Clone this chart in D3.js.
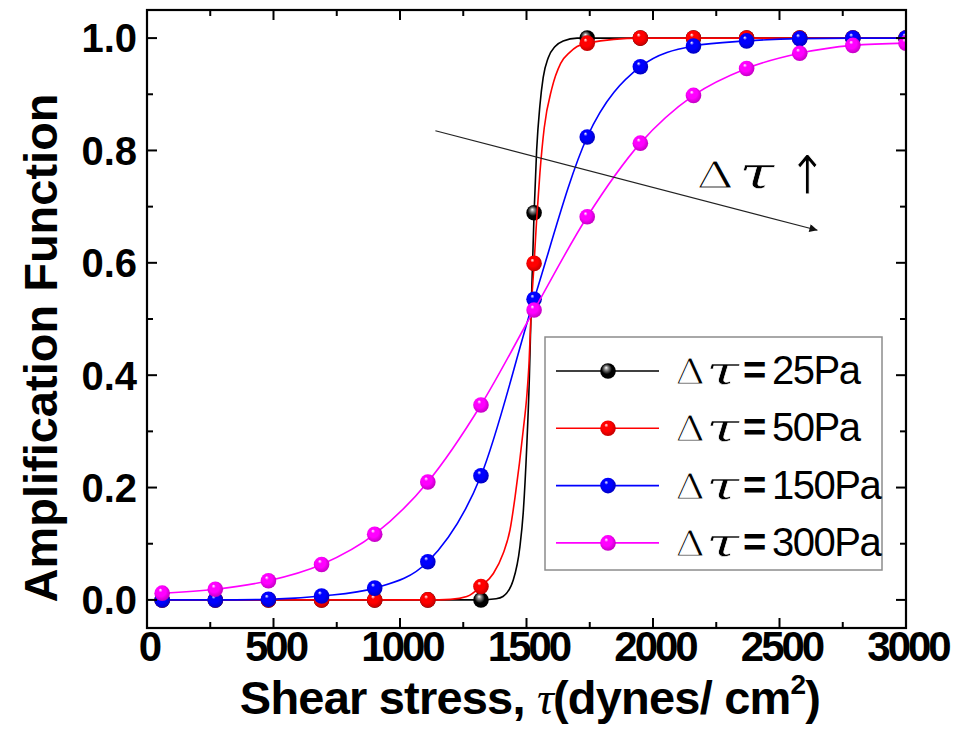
<!DOCTYPE html>
<html>
<head>
<meta charset="utf-8">
<script src="https://cdn.jsdelivr.net/npm/d3@7"></script>
<style>
  body { margin: 0; background: #fff; }
  svg { display: block; }
</style>
</head>
<body>
<svg id="chart" width="958" height="737"></svg>
<script>
// axis ticks
const xTicks = [0, 500, 1000, 1500, 2000, 2500, 3000];
const xMinor = [250, 750, 1250, 1750, 2250, 2750];
const yTicks = [0.0, 0.2, 0.4, 0.6, 0.8, 1.0];
const yMinor = [0.1, 0.3, 0.5, 0.7, 0.9];

// marker positions (shear stress, dynes/cm2)
const tauX = [60, 270, 480, 690, 900, 1110, 1320, 1530, 1740, 1950, 2160, 2370, 2580, 2790, 3000];
const amp25 = [0, 0, 0, 0, 0, 0, 0, 0.689, 1, 1, 1, 1, 1, 1, 1];
const amp50 = [0, 0, 0, 0, 0, 0, 0.024, 0.599, 0.991, 1, 1, 1, 1, 1, 1];
const amp150 = [0, 0, 0.001, 0.007, 0.021, 0.068, 0.221, 0.535, 0.824, 0.949, 0.986, 0.995, 0.999, 1, 1];
const amp300 = [0.012, 0.019, 0.034, 0.063, 0.117, 0.210, 0.347, 0.516, 0.682, 0.813, 0.898, 0.946, 0.973, 0.987, 0.991];

// the two steep curves
const trace25 = [[60, 0], [1320, 0], [1380, 0.002], [1407, 0.006], [1448, 0.036], [1474, 0.095],
  [1487, 0.155], [1501, 0.273], [1511, 0.391], [1518, 0.511], [1530, 0.689], [1540, 0.80],
  [1553, 0.88], [1566, 0.93], [1586, 0.965], [1613, 0.985], [1645, 0.995], [1700, 1], [3000, 1]];
const trace50 = [[60, 0], [1110, 0], [1200, 0.001], [1264, 0.006], [1320, 0.024], [1369, 0.047],
  [1408, 0.083], [1435, 0.125], [1455, 0.184], [1472, 0.243], [1487, 0.302], [1501, 0.362],
  [1510, 0.421], [1518, 0.51], [1530, 0.599], [1540, 0.676], [1553, 0.76], [1570, 0.84],
  [1600, 0.91], [1635, 0.955], [1672, 0.975], [1700, 0.985], [1740, 0.991], [1950, 1], [3000, 1]];

const seriesNames = ['25Pa', '50Pa', '150Pa', '300Pa'];
const seriesColors = ['#000000', '#ff0000', '#0000ff', '#ff00ff'];

const svg = d3.select('#chart');
const x = d3.scaleLinear().domain([0, 3000]).range([147, 906]);
const y = d3.scaleLinear().domain([-0.05, 1.05]).range([628, 10]);

const sans = '"Liberation Sans", Arial, sans-serif';
const serif = '"Liberation Serif", "DejaVu Serif", serif';
const mathFont = '"DejaVu Serif", serif';

// sphere gradients
const defs = svg.append('defs');
seriesColors.forEach((c, i) => {
  const g = defs.append('radialGradient')
    .attr('id', 'ball' + i)
    .attr('cx', 0.45).attr('cy', 0.45).attr('r', 0.6)
    .attr('fx', 0.38).attr('fy', 0.28);
  const base = d3.color(c);
  g.append('stop').attr('offset', '0%').attr('stop-color', '#ffffff');
  g.append('stop').attr('offset', '22%').attr('stop-color', i === 0 ? '#888888' : base.brighter(0.8));
  g.append('stop').attr('offset', '55%').attr('stop-color', c);
  g.append('stop').attr('offset', '100%').attr('stop-color', base.darker(0.9));
});

const line = d3.line()
  .x(d => x(d[0]))
  .y(d => y(d[1]))
  .curve(d3.curveMonotoneX);

const clip = defs.append('clipPath').attr('id', 'plotclip');
clip.append('rect').attr('x', 147).attr('y', 10).attr('width', 759).attr('height', 618);

const plot = svg.append('g').attr('clip-path', 'url(#plotclip)');

const seriesAmp = [amp25, amp50, amp150, amp300];
const seriesLine = [
  trace25,
  trace50,
  tauX.map((t, i) => [t, amp150[i]]),
  tauX.map((t, i) => [t, amp300[i]])
];

seriesAmp.forEach((amp, s) => {
  const g = plot.append('g');
  g.append('path')
    .attr('d', line(seriesLine[s]))
    .attr('fill', 'none')
    .attr('stroke', seriesColors[s])
    .attr('stroke-width', 1.6);
  g.selectAll('circle')
    .data(tauX.map((t, i) => [t, amp[i]]))
    .enter()
    .append('circle')
    .attr('cx', d => x(d[0]))
    .attr('cy', d => y(d[1]))
    .attr('r', 7.8)
    .attr('fill', `url(#ball${s})`);
});

// frame and inward ticks on all four sides
svg.append('rect')
  .attr('x', 147).attr('y', 10).attr('width', 759).attr('height', 618)
  .attr('fill', 'none').attr('stroke', '#000').attr('stroke-width', 2.2);

const tickG = svg.append('g').attr('stroke', '#000').attr('stroke-width', 2);
[[xTicks, 10], [xMinor, 6]].forEach(([ticks, len]) => {
  ticks.forEach(t => {
    tickG.append('line').attr('x1', x(t)).attr('x2', x(t)).attr('y1', 628).attr('y2', 628 - len);
    tickG.append('line').attr('x1', x(t)).attr('x2', x(t)).attr('y1', 10).attr('y2', 10 + len);
  });
});
[[yTicks, 10], [yMinor, 6]].forEach(([ticks, len]) => {
  ticks.forEach(t => {
    tickG.append('line').attr('y1', y(t)).attr('y2', y(t)).attr('x1', 147).attr('x2', 147 + len);
    tickG.append('line').attr('y1', y(t)).attr('y2', y(t)).attr('x1', 906).attr('x2', 906 - len);
  });
});

// tick labels
svg.append('g').selectAll('text')
  .data(xTicks).enter().append('text')
  .attr('x', d => x(d) + 2)
  .attr('y', 661)
  .attr('text-anchor', 'middle')
  .attr('font-family', sans).attr('font-weight', 'bold').attr('font-size', 42)
  .attr('letter-spacing', -3)
  .text(d => d);

svg.append('g').selectAll('text')
  .data(yTicks).enter().append('text')
  .attr('x', 137)
  .attr('y', d => y(d))
  .attr('dy', '0.36em')
  .attr('text-anchor', 'end')
  .attr('font-family', sans).attr('font-weight', 'bold').attr('font-size', 40)
  .text(d => d.toFixed(1));

// axis titles
svg.append('text')
  .attr('transform', 'translate(57,348) rotate(-90)')
  .attr('text-anchor', 'middle')
  .attr('font-family', sans).attr('font-weight', 'bold').attr('font-size', 47)
  .text('Amplification Function');

const xt = svg.append('text')
  .attr('x', 530).attr('y', 714)
  .attr('text-anchor', 'middle')
  .attr('font-family', sans).attr('font-weight', 'bold').attr('font-size', 47)
  .attr('letter-spacing', -0.8);
xt.append('tspan').text('Shear stress, ');
xt.append('tspan').attr('font-family', serif).attr('font-style', 'italic').attr('font-weight', 'normal').text('τ');
xt.append('tspan').text('(dynes/ cm');
xt.append('tspan').attr('font-size', 28).attr('dy', -20).text('2');
xt.append('tspan').attr('dy', 20).text(')');

// wide, thin greek letters as in the original figure
function greek(parent, ch, gx, gy, size, sx, italic, thin) {
  parent.append('text')
    .attr('transform', `translate(${gx},${gy}) scale(${sx},1)`)
    .attr('font-family', mathFont).attr('font-size', size)
    .attr('font-style', italic ? 'italic' : 'normal')
    .attr('fill', '#000')
    .attr('stroke', '#fff').attr('stroke-width', thin)
    .text(ch);
}

// arrow annotation
defs.append('marker')
  .attr('id', 'arrowhead')
  .attr('viewBox', '0 0 10 10')
  .attr('refX', 10).attr('refY', 5)
  .attr('markerWidth', 14).attr('markerHeight', 8)
  .attr('markerUnits', 'userSpaceOnUse')
  .attr('orient', 'auto')
  .append('path').attr('d', 'M0,0 L10,5 L0,10 Z').attr('fill', '#111');

svg.append('line')
  .attr('x1', x(1140)).attr('y1', y(0.835))
  .attr('x2', x(2650)).attr('y2', y(0.658))
  .attr('stroke', '#222').attr('stroke-width', 1.2)
  .attr('marker-end', 'url(#arrowhead)');

const ann = svg.append('g');
const ax = x(2170), ay = y(0.73) - 2;
greek(ann, 'Δ', ax, ay, 38, 1.4, false, 1.1);
greek(ann, 'τ', ax + 43, ay, 44, 1.45, true, 0.5);
ann.append('text')
  .attr('transform', `translate(${ax + 92},${ay + 6}) scale(1.15,1.35)`)
  .attr('font-family', '"DejaVu Sans", sans-serif').attr('font-size', 40)
  .attr('fill', '#000').attr('stroke', '#fff').attr('stroke-width', 0.8)
  .text('↑');

// legend
const legend = svg.append('g');
legend.append('rect')
  .attr('x', 545).attr('y', 337).attr('width', 337).attr('height', 233)
  .attr('fill', '#fff').attr('stroke', '#8c8c8c').attr('stroke-width', 1.5);

seriesNames.forEach((name, i) => {
  const ry = 371 + i * 57.3;
  legend.append('line')
    .attr('x1', 556).attr('x2', 659).attr('y1', ry).attr('y2', ry)
    .attr('stroke', seriesColors[i]).attr('stroke-width', 1.6);
  legend.append('circle')
    .attr('cx', 608).attr('cy', ry).attr('r', 7.8)
    .attr('fill', `url(#ball${i})`);
  greek(legend, 'Δ', 675, ry + 13, 35, 1.2, false, 1.1);
  greek(legend, 'τ', 706, ry + 13, 40, 1.5, true, 0.5);
  legend.append('text')
    .attr('x', 743).attr('y', ry + 13)
    .attr('font-family', sans).attr('font-weight', 'bold').attr('font-size', 40)
    .text('=');
  legend.append('text')
    .attr('x', 772).attr('y', ry + 13)
    .attr('font-family', sans).attr('font-size', 40).attr('letter-spacing', -1.5)
    .text(name);
});
</script>
</body>
</html>
